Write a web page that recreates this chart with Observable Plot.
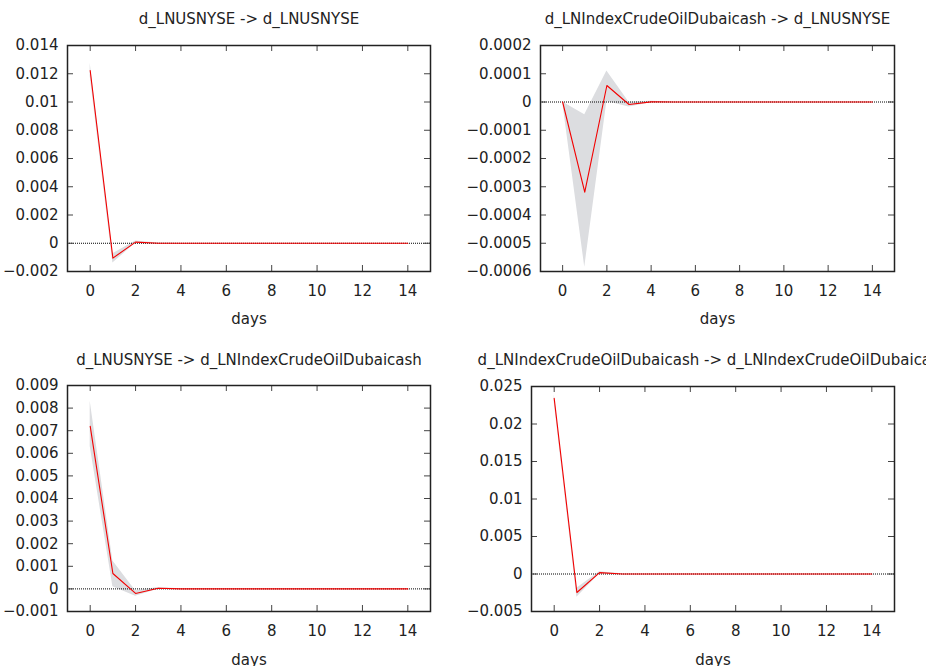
<!DOCTYPE html>
<html>
<head>
<meta charset="utf-8">
<script src="https://cdn.jsdelivr.net/npm/d3@7"></script>
<script src="https://cdn.jsdelivr.net/npm/@observablehq/plot@0.6"></script>
<style>
html, body { margin: 0; padding: 0; background: #fff; overflow: hidden; }
#root { position: relative; width: 926px; height: 666px; overflow: hidden; background: #fff; }
.panel { position: absolute; }
</style>
</head>
<body>
<div id="root"></div>
<script>
// ---- Data ----
const days = [0, 1, 2, 3, 4, 5, 6, 7, 8, 9, 10, 11, 12, 13, 14];
const xTicks = [0, 2, 4, 6, 8, 10, 12, 14];

const titles = [
  "d_LNUSNYSE -> d_LNUSNYSE",
  "d_LNIndexCrudeOilDubaicash -> d_LNUSNYSE",
  "d_LNUSNYSE -> d_LNIndexCrudeOilDubaicash",
  "d_LNIndexCrudeOilDubaicash -> d_LNIndexCrudeOilDubaicash"
];

// Panel 1: d_LNUSNYSE -> d_LNUSNYSE
const resp1  = [0.01223, -0.00105, 0.00008, -0.000005, 0.000001, 0, 0, 0, 0, 0, 0, 0, 0, 0, 0];
const lower1 = [0.01180, -0.00140, 0.00000, -0.000030, -0.000003, 0, 0, 0, 0, 0, 0, 0, 0, 0, 0];
const upper1 = [0.01275, -0.00075, 0.00016, 0.000015, 0.000004, 0, 0, 0, 0, 0, 0, 0, 0, 0, 0];
const yTicks1 = [-0.002, 0, 0.002, 0.004, 0.006, 0.008, 0.01, 0.012, 0.014];

// Panel 2: d_LNIndexCrudeOilDubaicash -> d_LNUSNYSE
const resp2  = [0, -0.000319, 0.0000584, -0.0000088, 0.0000005, 0, 0, 0, 0, 0, 0, 0, 0, 0, 0];
const lower2 = [0, -0.000585, 0.0000020, -0.0000180, -0.0000030, 0, 0, 0, 0, 0, 0, 0, 0, 0, 0];
const upper2 = [0, -0.000045, 0.0001100, -0.0000010, 0.0000030, 0, 0, 0, 0, 0, 0, 0, 0, 0, 0];
const yTicks2 = [-0.0006, -0.0005, -0.0004, -0.0003, -0.0002, -0.0001, 0, 0.0001, 0.0002];

// Panel 3: d_LNUSNYSE -> d_LNIndexCrudeOilDubaicash
const resp3  = [0.0072, 0.00068, -0.00020, 0.00003, 0.000001, 0, 0, 0, 0, 0, 0, 0, 0, 0, 0];
const lower3 = [0.0063, 0.00009, -0.00032, -0.00001, -0.000003, 0, 0, 0, 0, 0, 0, 0, 0, 0, 0];
const upper3 = [0.0083, 0.00124, -0.00008, 0.00006, 0.000004, 0, 0, 0, 0, 0, 0, 0, 0, 0, 0];
const yTicks3 = [-0.001, 0, 0.001, 0.002, 0.003, 0.004, 0.005, 0.006, 0.007, 0.008, 0.009];

// Panel 4: d_LNIndexCrudeOilDubaicash -> d_LNIndexCrudeOilDubaicash
const resp4  = [0.02342, -0.00247, 0.00018, 0.00001, 0, 0, 0, 0, 0, 0, 0, 0, 0, 0, 0];
const lower4 = [0.02290, -0.00310, 0.00000, -0.00001, 0, 0, 0, 0, 0, 0, 0, 0, 0, 0, 0];
const upper4 = [0.02390, -0.00190, 0.00030, 0.00003, 0, 0, 0, 0, 0, 0, 0, 0, 0, 0, 0];
const yTicks4 = [-0.005, 0, 0.005, 0.01, 0.015, 0.02, 0.025];

// ---- Layout ----
const panels = [
  {title: titles[0], resp: resp1, lo: lower1, hi: upper1, ticks: yTicks1, domain: [-0.002, 0.014],
   left: 0, top: 0, ml: 67, mr: 33, mt: 45, mb: 62, titleDy: -26, daysDy: 48},
  {title: titles[1], resp: resp2, lo: lower2, hi: upper2, ticks: yTicks2, domain: [-0.0006, 0.0002],
   left: 463, top: 0, ml: 77, mr: 32, mt: 45, mb: 62, titleDy: -26, daysDy: 48},
  {title: titles[2], resp: resp3, lo: lower3, hi: upper3, ticks: yTicks3, domain: [-0.001, 0.009],
   left: 0, top: 333, ml: 67, mr: 33, mt: 52, mb: 55, titleDy: -25, daysDy: 49},
  {title: titles[3], resp: resp4, lo: lower4, hi: upper4, ticks: yTicks4, domain: [-0.005, 0.025],
   left: 463, top: 333, ml: 68, mr: 32, mt: 53, mb: 55, titleDy: -26, daysDy: 49}
];

const fmt = d => d === 0 ? "0" : d3.format("~g")(d);
const W = 463, H = 333;
const root = document.getElementById("root");

for (const p of panels) {
  const innerW = W - p.ml - p.mr;
  const innerH = H - p.mt - p.mb;
  const rows = days.map((d, i) => ({day: d, resp: p.resp[i], lo: p.lo[i], hi: p.hi[i]}));
  const svg = Plot.plot({
    width: W, height: H,
    marginLeft: p.ml, marginRight: p.mr, marginTop: p.mt, marginBottom: p.mb,
    style: {fontFamily: "DejaVu Sans, sans-serif", fontSize: "15px", color: "#222", background: "white", overflow: "visible", maxWidth: "none"},
    x: {domain: [-1, 15]},
    y: {domain: p.domain},
    marks: [
      Plot.areaY(rows, {x: "day", y1: "lo", y2: "hi", fill: "#dcdde0"}),
      Plot.ruleY([0], {stroke: "#000", strokeDasharray: "1,1", strokeWidth: 1}),
      Plot.lineY(rows, {x: "day", y: "resp", stroke: "#f20000", strokeWidth: 1.1}),
      Plot.tickY(p.ticks, {y: d => d, insetRight: innerW - 6, stroke: "#444"}),
      Plot.tickY(p.ticks, {y: d => d, insetLeft: innerW - 6, stroke: "#444"}),
      Plot.tickX(xTicks, {x: d => d, insetTop: innerH - 6, stroke: "#444"}),
      Plot.tickX(xTicks, {x: d => d, insetBottom: innerH - 6, stroke: "#444"}),
      Plot.frame({stroke: "#222", strokeWidth: 1.5}),
      Plot.axisY(p.ticks, {tickSize: 0, tickPadding: 9, tickFormat: fmt, label: null}),
      Plot.axisX(xTicks, {tickSize: 0, tickPadding: 14, tickFormat: d => String(d), label: null}),
      Plot.text([p.title], {text: d => d, frameAnchor: "top", dy: p.titleDy, lineAnchor: "middle"}),
      Plot.text(["days"], {text: d => d, frameAnchor: "bottom", dy: p.daysDy, lineAnchor: "middle"})
    ]
  });
  const div = document.createElement("div");
  div.className = "panel";
  div.style.left = p.left + "px";
  div.style.top = p.top + "px";
  div.appendChild(svg);
  root.appendChild(div);
}
</script>
</body>
</html>
